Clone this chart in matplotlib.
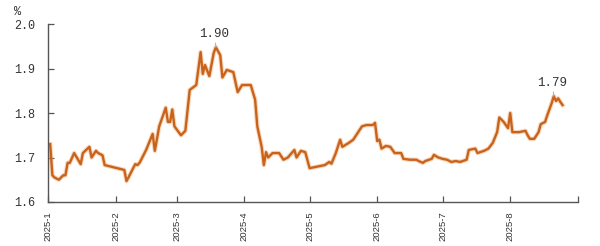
import pandas as pd
import matplotlib.pyplot as plt

# daily yield readings (%)
dates = [
    "2025-01-02", "2025-01-03", "2025-01-04", "2025-01-06", "2025-01-08", "2025-01-09",
    "2025-01-10", "2025-01-11", "2025-01-13", "2025-01-16", "2025-01-17", "2025-01-20",
    "2025-01-21", "2025-01-23", "2025-01-24", "2025-01-26", "2025-01-27", "2025-02-05",
    "2025-02-06", "2025-02-07", "2025-02-10", "2025-02-11", "2025-02-12", "2025-02-15",
    "2025-02-18", "2025-02-19", "2025-02-21", "2025-02-24", "2025-02-25", "2025-02-26",
    "2025-02-27", "2025-02-28", "2025-03-03", "2025-03-05", "2025-03-07", "2025-03-10",
    "2025-03-12", "2025-03-13", "2025-03-14", "2025-03-16", "2025-03-18", "2025-03-19",
    "2025-03-21", "2025-03-22", "2025-03-24", "2025-03-27", "2025-03-29", "2025-03-31",
    "2025-04-04", "2025-04-06", "2025-04-07", "2025-04-09", "2025-04-10", "2025-04-11",
    "2025-04-12", "2025-04-14", "2025-04-17", "2025-04-19", "2025-04-21", "2025-04-24",
    "2025-04-25", "2025-04-27", "2025-04-29", "2025-05-01", "2025-05-08", "2025-05-10",
    "2025-05-11", "2025-05-13", "2025-05-15", "2025-05-16", "2025-05-19", "2025-05-21",
    "2025-05-25", "2025-05-27", "2025-05-30", "2025-05-31", "2025-06-01", "2025-06-02",
    "2025-06-03", "2025-06-05", "2025-06-07", "2025-06-09", "2025-06-12", "2025-06-13",
    "2025-06-16", "2025-06-19", "2025-06-20", "2025-06-22", "2025-06-23", "2025-06-26",
    "2025-06-27", "2025-06-29", "2025-07-01", "2025-07-03", "2025-07-05", "2025-07-07",
    "2025-07-09", "2025-07-12", "2025-07-13", "2025-07-16", "2025-07-17", "2025-07-20",
    "2025-07-22", "2025-07-24", "2025-07-26", "2025-07-27", "2025-07-29", "2025-07-31",
    "2025-08-01", "2025-08-02", "2025-08-05", "2025-08-08", "2025-08-09", "2025-08-10",
    "2025-08-12", "2025-08-14", "2025-08-15", "2025-08-17", "2025-08-18", "2025-08-20",
    "2025-08-21", "2025-08-22", "2025-08-23", "2025-08-24", "2025-08-25",
]
yields = [
    1.730, 1.660, 1.655, 1.650, 1.660, 1.660,
    1.688, 1.688, 1.710, 1.685, 1.710, 1.724,
    1.700, 1.715, 1.710, 1.705, 1.683, 1.672,
    1.647, 1.656, 1.685, 1.683, 1.688, 1.717,
    1.753, 1.715, 1.770, 1.812, 1.780, 1.780,
    1.808, 1.770, 1.750, 1.760, 1.852, 1.863,
    1.937, 1.888, 1.908, 1.883, 1.935, 1.948,
    1.930, 1.880, 1.897, 1.892, 1.847, 1.863,
    1.863, 1.830, 1.770, 1.724, 1.683, 1.712,
    1.700, 1.710, 1.710, 1.695, 1.700, 1.717,
    1.700, 1.715, 1.712, 1.676, 1.683, 1.690,
    1.686, 1.710, 1.740, 1.724, 1.733, 1.740,
    1.770, 1.773, 1.773, 1.778, 1.737, 1.740,
    1.720, 1.726, 1.724, 1.710, 1.710, 1.697,
    1.695, 1.695, 1.692, 1.688, 1.692, 1.697,
    1.706, 1.700, 1.697, 1.695, 1.690, 1.692,
    1.690, 1.695, 1.717, 1.720, 1.710, 1.715,
    1.720, 1.733, 1.757, 1.790, 1.780, 1.766,
    1.800, 1.757, 1.757, 1.760, 1.750, 1.742,
    1.742, 1.757, 1.775, 1.780, 1.795, 1.822,
    1.838, 1.827, 1.833, 1.825, 1.818,
]
month_ticks = ["2025-01-01", "2025-02-01", "2025-03-01", "2025-04-01", "2025-05-01",
               "2025-06-01", "2025-07-01", "2025-08-01", "2025-09-01"]
month_labels = ["2025-1", "2025-2", "2025-3", "2025-4", "2025-5",
                "2025-6", "2025-7", "2025-8", ""]
y_ticks = [1.6, 1.7, 1.8, 1.9, 2.0]

# annotated points: (date, value, label)
notes = [("2025-03-19", 1.948, "1.90"), ("2025-08-21", 1.838, "1.79")]

s = pd.Series(yields, index=pd.to_datetime(dates))

fig = plt.figure(figsize=(6, 2.46), dpi=100)
ax = fig.add_axes([0.08, 0.179, 0.883, 0.723])

# soft halo under the line, like the anti-aliased original
ax.plot(s.index, s.values, color="#F0B07A", linewidth=3.2, alpha=0.5, solid_joinstyle="round")
ax.plot(s.index, s.values, color="#C9631C", linewidth=1.7, solid_joinstyle="round")

ax.set_xlim(pd.Timestamp("2025-01-01"), pd.Timestamp("2025-09-01"))
ax.set_ylim(1.6, 2.0)

ax.set_xticks(pd.to_datetime(month_ticks))
ax.set_xticklabels(month_labels, rotation=90, fontsize=6.8,
                   family="Liberation Sans", color="#333333")
ax.set_yticks(y_ticks)
ax.set_yticklabels([f"{v:.1f}" for v in y_ticks], family="Liberation Mono",
                   fontsize=8.5, color="#333333")
ax.tick_params(axis="both", direction="in", length=4, color="#555555", width=0.9)
ax.tick_params(axis="y", pad=9)
ax.tick_params(axis="x", pad=7)

for side in ["top", "right"]:
    ax.spines[side].set_visible(False)
for side in ["left", "bottom"]:
    ax.spines[side].set_color("#555555")
    ax.spines[side].set_linewidth(1.0)

for d, v, txt in notes:
    ax.annotate(txt, xy=(pd.Timestamp(d), v), xytext=(-1, 5), textcoords="offset points",
                ha="center", va="bottom", fontsize=9, family="Liberation Mono",
                color="#333333",
                arrowprops=dict(arrowstyle="-", color="#9BB8D3", lw=0.8,
                                shrinkA=0, shrinkB=0))

fig.text(0.023, 0.95, "%", fontsize=8.5, family="Liberation Mono", color="#333333",
         va="center", ha="left")

fig.savefig("out.png", dpi=100, facecolor="white")
